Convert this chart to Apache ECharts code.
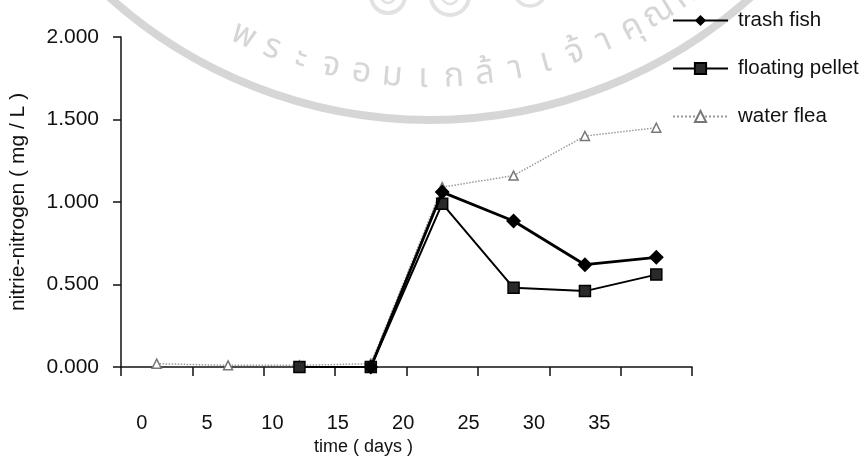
<!DOCTYPE html>
<html>
<head>
<meta charset="utf-8">
<script src="https://cdn.jsdelivr.net/npm/echarts@6/dist/echarts.min.js"></script>
<style>
  html, body { margin: 0; padding: 0; background: #ffffff; }
  #chart { width: 865px; height: 471px; }
</style>
</head>
<body>
<div id="chart"></div>
<script>
// Sampling days and nitrite-nitrogen readings (mg/L) per feed type
const days = ['0', '5', '10', '15', '20', '25', '30', '35'];
const trashFish = [null, null, null, 0.00, 1.06, 0.885, 0.62, 0.665];
const floatingPellet = [null, null, 0.00, 0.00, 0.99, 0.48, 0.46, 0.56];
const waterFlea = [0.02, 0.01, 0.01, 0.02, 1.09, 1.16, 1.40, 1.45];

// Value axis range
const yMin = 0;
const yMax = 2;
const yStep = 0.5;

// Seal text printed along the lower rim of the background emblem
const sealText = 'พระจอมเกล้าเจ้าคุณทหาร';

const FONT = '"Liberation Sans", Arial, sans-serif';
const INK = '#111111';
const SEAL = '#d6d6d6';

// Background emblem: outer ring, small crest loops and the seal text on an arc
function buildSeal() {
  const cx = 430, cy = -360;
  const ring = (x, y, r, w, c) => ({
    type: 'circle', silent: true, shape: { cx: x, cy: y, r },
    style: { fill: 'none', stroke: c || SEAL, lineWidth: w }
  });
  const els = [
    ring(cx, cy, 480, 8),
    ring(388, -4, 17, 4, '#e2e2e2'), ring(388, -4, 7, 2.5, '#e2e2e2'),
    ring(450, -4, 19, 4, '#e2e2e2'), ring(450, -4, 8, 2.5, '#e2e2e2'),
    ring(530, -10, 16, 3.5, '#e2e2e2')
  ];
  const seg = (typeof Intl !== 'undefined' && Intl.Segmenter)
    ? Array.from(new Intl.Segmenter('th', { granularity: 'grapheme' }).segment(sealText), s => s.segment)
    : Array.from(sealText);
  const rText = 440;
  const start = -0.44, step = 0.0707;
  seg.forEach((ch, i) => {
    const a = start + i * step;
    els.push({
      type: 'text',
      x: cx + rText * Math.sin(a),
      y: cy + rText * Math.cos(a),
      rotation: a,
      silent: true,
      style: {
        text: ch,
        font: '34px "Noto Sans Thai", "Noto Sans", "DejaVu Sans", sans-serif',
        fill: SEAL,
        align: 'center',
        verticalAlign: 'middle'
      }
    });
  });
  return els;
}

const chart = echarts.init(document.getElementById('chart'), null, { renderer: 'canvas' });

chart.setOption({
  backgroundColor: '#ffffff',
  animation: false,
  graphic: { elements: buildSeal() },
  legend: {
    orient: 'vertical',
    left: 667,
    top: 5,
    itemWidth: 55,
    itemHeight: 14,
    itemGap: 27,
    textStyle: { fontFamily: FONT, fontSize: 20.5, lineHeight: 21, color: INK, padding: [0, 0, 0, 5] },
    data: ['trash fish', 'floating pellet', 'water flea']
  },
  grid: [
    { left: 118, right: 173, top: 37, bottom: 104, containLabel: false },
    { left: 109, right: 233, top: 37, bottom: 104, containLabel: false }
  ],
  xAxis: [
    {
      type: 'category',
      gridIndex: 0,
      data: days,
      boundaryGap: true,
      axisLine: { lineStyle: { color: INK, width: 1.5 } },
      axisTick: { show: true, length: 9, lineStyle: { color: INK, width: 1.5 } },
      axisLabel: { show: false },
      splitLine: { show: false }
    },
    {
      type: 'category',
      gridIndex: 1,
      data: days,
      boundaryGap: true,
      axisLine: { show: false },
      axisTick: { show: false },
      axisLabel: { show: true, margin: 46, fontFamily: FONT, fontSize: 20, color: INK },
      splitLine: { show: false },
      name: 'time ( days )',
      nameLocation: 'middle',
      nameGap: 71,
      nameTextStyle: { fontFamily: FONT, fontSize: 18, color: INK, padding: [0, 14, 0, 0] }
    }
  ],
  yAxis: [
    {
      type: 'value',
      gridIndex: 0,
      min: yMin,
      max: yMax,
      interval: yStep,
      axisLine: { show: true, lineStyle: { color: INK, width: 1.5 } },
      axisTick: { show: true, length: 8, lineStyle: { color: INK, width: 1.5 } },
      axisLabel: {
        margin: 22,
        fontFamily: FONT,
        fontSize: 21,
        color: INK,
        formatter: v => v.toFixed(3)
      },
      splitLine: { show: false },
      name: 'nitrie-nitrogen ( mg / L )',
      nameLocation: 'middle',
      nameGap: 92,
      nameTextStyle: { fontFamily: FONT, fontSize: 21, color: INK }
    },
    {
      type: 'value',
      gridIndex: 1,
      min: 0,
      max: 1,
      show: false
    }
  ],
  series: [
    {
      name: 'trash fish',
      type: 'line',
      data: trashFish,
      symbol: 'diamond',
      symbolSize: 15,
      itemStyle: { color: '#000000' },
      lineStyle: { color: '#000000', width: 2.8 },
      z: 4
    },
    {
      name: 'floating pellet',
      type: 'line',
      data: floatingPellet,
      symbol: 'rect',
      symbolSize: 11,
      itemStyle: { color: '#2a2a2a', borderColor: '#000000', borderWidth: 1.5 },
      lineStyle: { color: '#000000', width: 2 },
      z: 3
    },
    {
      name: 'water flea',
      type: 'line',
      data: waterFlea,
      symbol: 'triangle',
      symbolSize: 9,
      itemStyle: { color: '#ffffff', borderColor: '#777777', borderWidth: 1.5 },
      lineStyle: { color: '#9a9a9a', width: 1.5, type: 'dotted' },
      z: 2
    }
  ]
});
</script>
</body>
</html>
